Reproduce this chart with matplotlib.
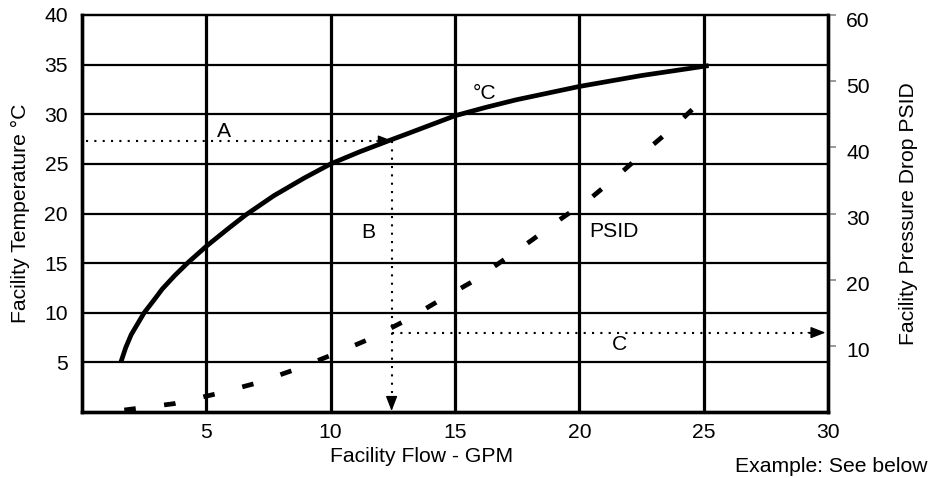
import matplotlib
matplotlib.use("Agg")
import matplotlib.pyplot as plt
from matplotlib.transforms import ScaledTranslation

plt.rcParams['font.family'] = ['Liberation Sans', 'DejaVu Sans']

# ---- data ----
flow_temp = [1.56, 1.76, 1.98, 2.5, 2.87, 3.23, 3.73, 4.26, 5.0, 5.84, 6.58,
             7.72, 8.92, 10.0, 11.15, 12.35, 13.1, 15.0, 16.25, 17.45, 20.0,
             22.5, 25.2]
temp_c = [5.0, 6.5, 7.8, 10.0, 11.2, 12.4, 13.75, 15.05, 16.7, 18.4, 19.85,
          21.8, 23.55, 25.0, 26.2, 27.35, 28.05, 29.85, 30.7, 31.45, 32.8,
          33.9, 34.9]

flow_psid = [1.7, 3.7, 5.35, 7.05, 8.55, 10.1, 11.6, 13.0, 14.3, 15.65, 16.85,
             18.1, 19.3, 20.45, 21.6, 22.65, 23.75, 24.9]
psid = [0.3, 1.26, 2.7, 4.4, 6.4, 8.7, 11.1, 13.8, 16.7, 19.6, 22.7,
        26.0, 29.3, 32.3, 35.9, 39.4, 42.9, 47.0]

x_ticks = [5, 10, 15, 20, 25, 30]
temp_ticks = [5, 10, 15, 20, 25, 30, 35, 40]
psid_ticks = [10, 20, 30, 40, 50, 60]
v_grid = [5, 10, 15, 20, 25]
h_grid = [5, 10, 15, 20, 25, 30, 35]

# example path
ex_temp = 27.3
ex_flow = 12.45
ex_psid = 12.0

FS = 15.2

fig = plt.figure(figsize=(9.29, 4.78), dpi=100)
ax = fig.add_axes([82/929, 1-412/478, (828-82)/929, (412-15)/478])
ax.set_xlim(0, 30)
ax.set_ylim(0, 40)
ax2 = ax.twinx()
ax2.set_ylim(0, 60)

# grid
for v in v_grid:
    ax.axvline(v, color='black', lw=2.3, zorder=1)
for h in h_grid:
    ax.axhline(h, color='black', lw=1.6, zorder=1)

# spines
for a in (ax, ax2):
    for s in ('left', 'bottom', 'right'):
        a.spines[s].set_linewidth(2.4)
    a.spines['top'].set_linewidth(1.6)

# temperature curve
ax.plot(flow_temp, temp_c, color='black', lw=3.4, solid_capstyle='butt',
        solid_joinstyle='round', zorder=3)

# psid curve
ax2.plot(flow_psid, psid, color='black', lw=3.4, dash_capstyle='butt',
         linestyle=(0, (2.45, 6.05)), zorder=3)

# dotted example lines
dot = dict(color='black', lw=1.5, linestyle=(0, (1, 3.0)), zorder=4)
ax.plot([0.15, ex_flow - 0.3], [ex_temp, ex_temp], **dot)
ax.plot([ex_flow, ex_flow], [ex_temp, 0.6], **dot)
ax2.plot([ex_flow, 29.5], [ex_psid, ex_psid], **dot)

head = dict(arrowstyle='-|>,head_length=0.9,head_width=0.35', color='black',
            lw=1.0, shrinkA=0, shrinkB=0)
ax.annotate('', xy=(ex_flow + 0.05, ex_temp), xytext=(ex_flow - 0.6, ex_temp),
            arrowprops=head, zorder=5)
ax.annotate('', xy=(ex_flow, 0.1), xytext=(ex_flow, 1.3), arrowprops=head, zorder=5)
ax2.annotate('', xy=(29.9, ex_psid), xytext=(29.2, ex_psid), arrowprops=head, zorder=5)

# labels inside
ax.text(5.7, 28.3, 'A', fontsize=FS, ha='center', va='center')
ax.text(11.5, 18.1, 'B', fontsize=FS, ha='center', va='center')
ax.text(21.6, 6.8, 'C', fontsize=FS, ha='center', va='center')
ax.text(16.2, 32.1, '°C', fontsize=FS, ha='center', va='center')
ax.text(21.4, 18.2, 'PSID', fontsize=FS, ha='center', va='center')

# ticks
ax.set_xticks(x_ticks)
ax.set_yticks(temp_ticks)
ax.tick_params(axis='x', length=0, pad=8, labelsize=FS)
ax.tick_params(axis='y', length=0, pad=10, labelsize=FS)
ax2.set_yticks(psid_ticks)
ax2.tick_params(axis='y', length=6, width=1.2, color='#888888', pad=7, labelsize=FS)
shift = ScaledTranslation(0, -4/100, fig.dpi_scale_trans)
for lbl in ax2.get_yticklabels():
    lbl.set_transform(lbl.get_transform() + shift)

ax.set_ylabel('Facility Temperature °C', fontsize=FS)
ax.yaxis.set_label_coords(-0.0697, 0.5)
ax2.set_ylabel('Facility Pressure Drop PSID', fontsize=FS)
ax2.yaxis.set_label_coords(1.095, 0.5)
fig.text(422/929, 1-456/478, 'Facility Flow - GPM', fontsize=FS, ha='center', va='center')
fig.text(0.9985, 1-467/478, 'Example: See below', fontsize=FS, ha='right', va='center')

fig.savefig('out.png', dpi=100)
